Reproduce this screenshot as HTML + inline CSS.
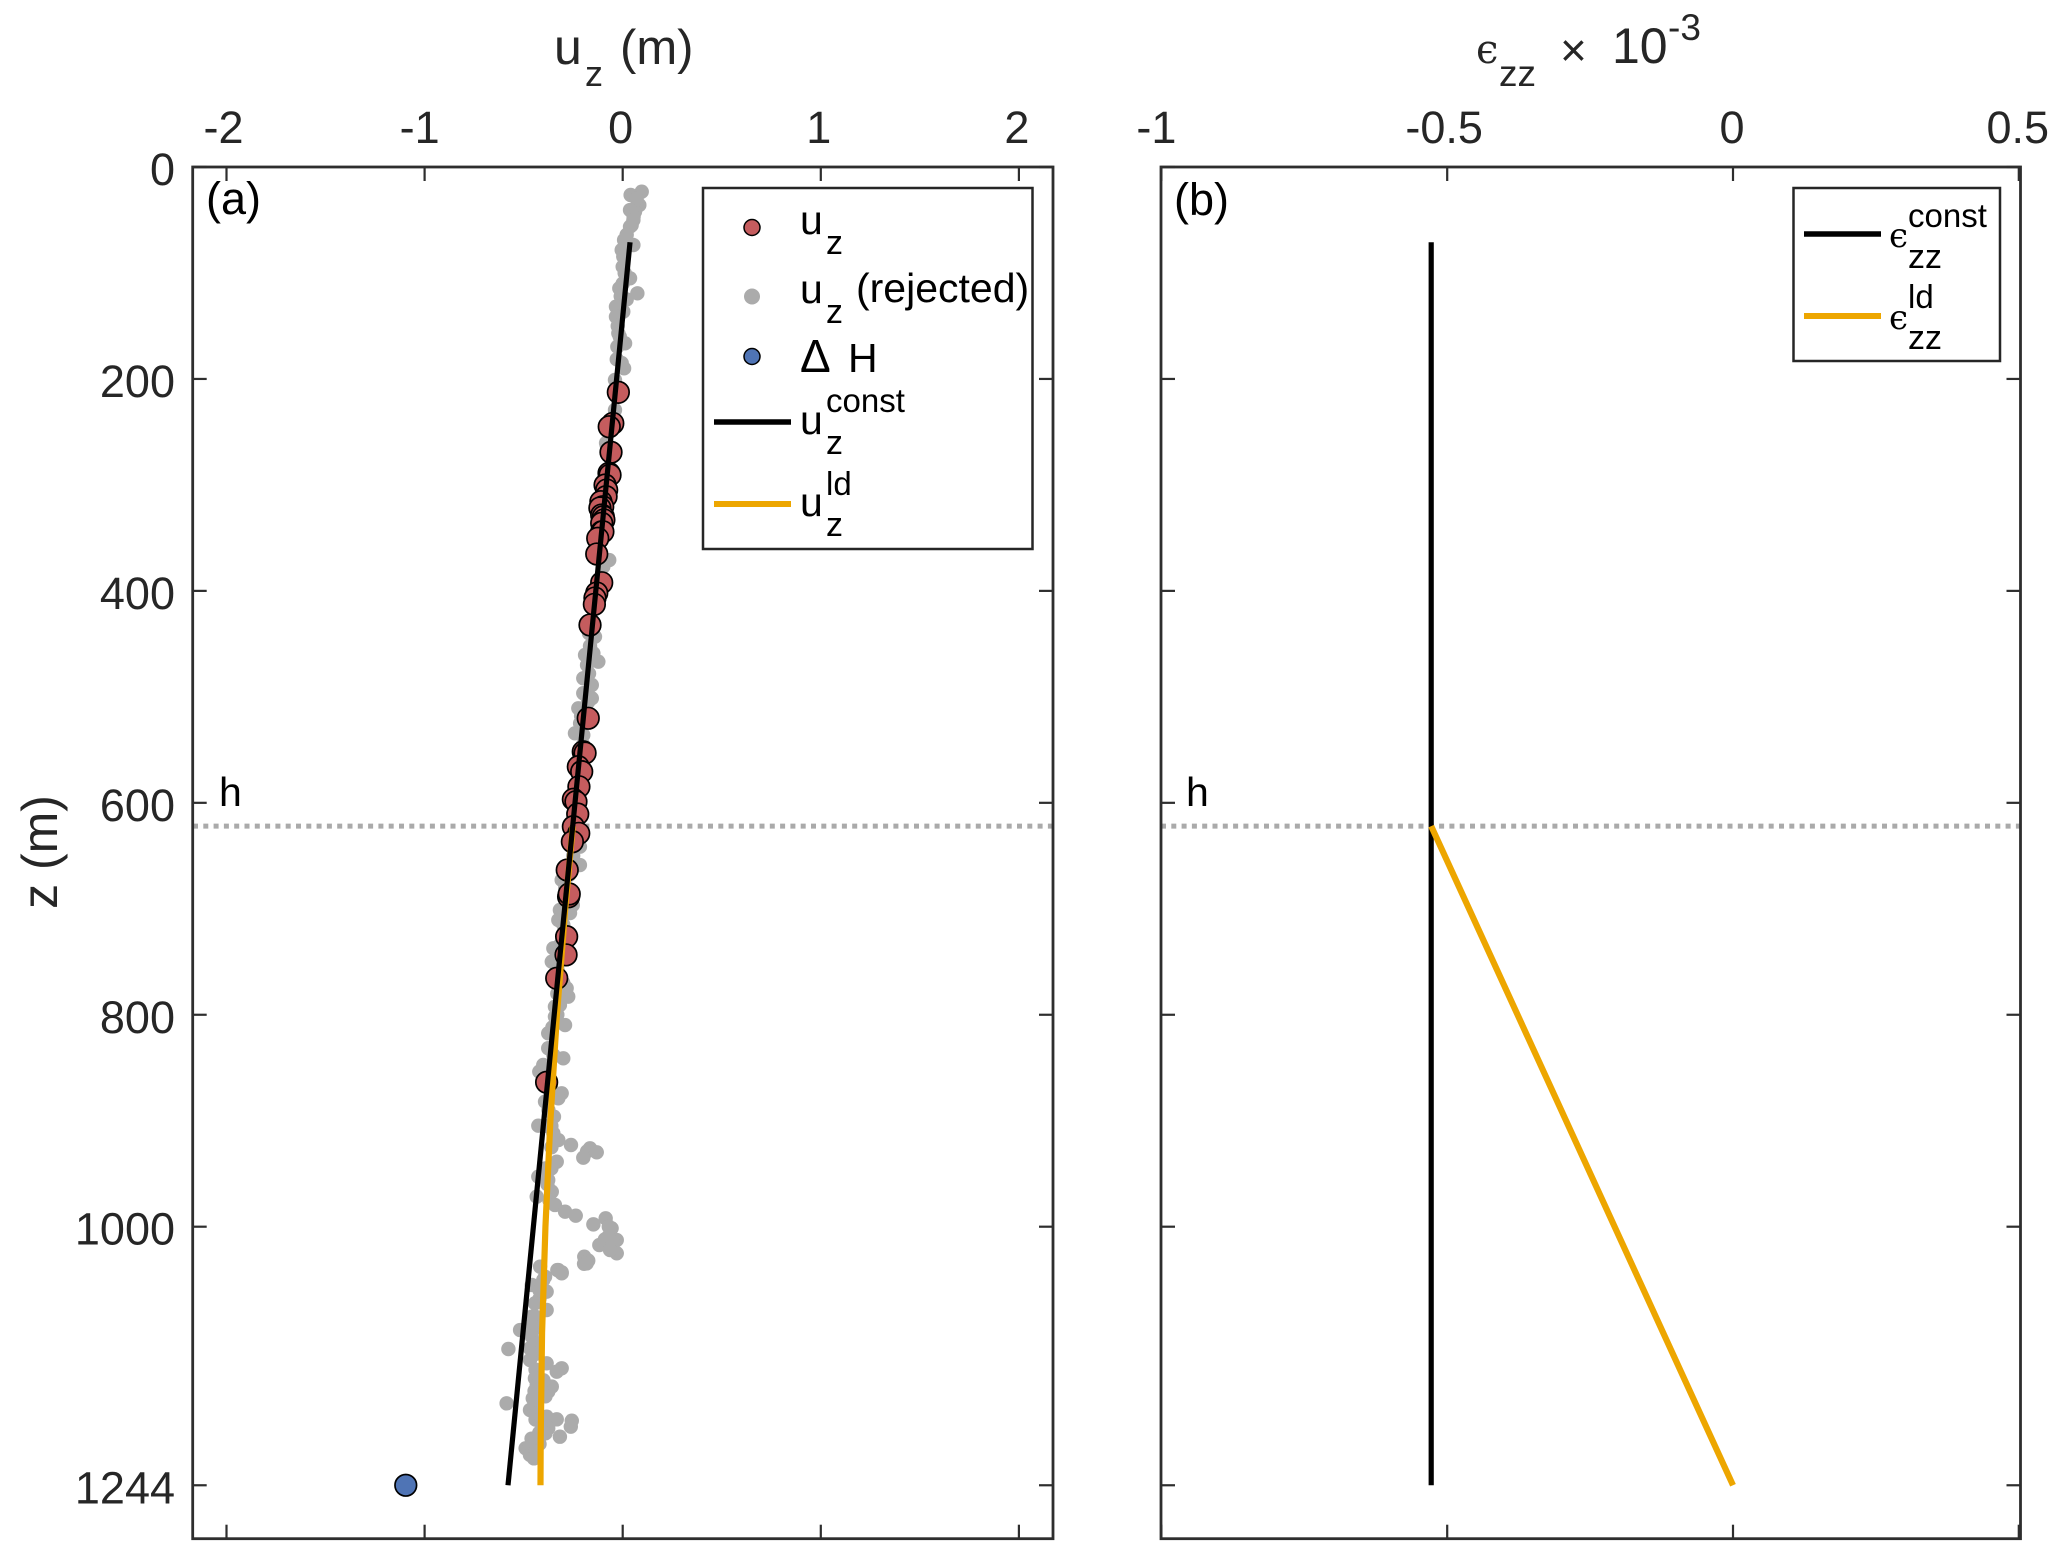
<!DOCTYPE html>
<html lang="en">
<head>
<meta charset="utf-8">
<title>Displacement and strain profiles</title>
<style>
html,body{margin:0;padding:0;background:#fff;}
svg{display:block;font-family:"Liberation Sans",sans-serif;}
.tk{font-size:45px;fill:#262626;}
.ti{font-size:50px;fill:#262626;}
.lg{font-size:41px;fill:#000;}
.sb{font-size:34px;fill:#000;}
.ss{font-size:33px;fill:#000;}
.ep{font-family:"DejaVu Serif","Liberation Serif",serif;font-size:34px;fill:#000;}
</style>
</head>
<body>
<svg id="fig" xmlns="http://www.w3.org/2000/svg" width="2067" height="1552" viewBox="0 0 2067 1552">
  <rect x="0" y="0" width="2067" height="1552" fill="#fff"/>
  <g id="panelA"></g>
  <g id="panelB"></g>

  <text class="ti"><tspan x="554" y="64">u</tspan><tspan x="585" y="86" font-size="36">z</tspan><tspan x="620" y="64" font-size="49">(m)</tspan></text>
  <text class="ti"><tspan x="1476" y="63" class="ep" style="font-size:40px;fill:#262626">ϵ</tspan><tspan x="1499" y="86" font-size="37">zz</tspan><tspan x="1560" y="66" font-size="46">×</tspan><tspan x="1612" y="63">10</tspan><tspan x="1668" y="40" font-size="37">-3</tspan></text>
  <text class="ti" transform="translate(57,852) rotate(-90)" text-anchor="middle">z (m)</text>
  <text x="206" y="214" font-size="45" fill="#000">(a)</text>
  <text x="1174" y="215" font-size="45" fill="#000">(b)</text>
  <text x="219" y="806" font-size="41" fill="#000">h</text>
  <text x="1186" y="806" font-size="41" fill="#000">h</text>

  <g>
    <rect x="703" y="188" width="329.5" height="361" fill="#fff" stroke="#262626" stroke-width="2.5"/>
    <g>
      <circle cx="752" cy="227.5" r="8" fill="#c55c5e" stroke="#000" stroke-width="1.5"/>
      <text class="lg" x="800" y="234">u</text><text class="sb" x="826" y="254">z</text>
    </g>
    <g>
      <circle cx="752" cy="296.5" r="8" fill="#ababab"/>
      <text class="lg" x="800" y="303">u</text><text class="sb" x="826" y="323">z</text>
      <text class="lg" x="856" y="302">(rejected)</text>
    </g>
    <g>
      <circle cx="752" cy="356.5" r="8" fill="#4f74b5" stroke="#000" stroke-width="1.5"/>
      <text class="lg" x="800" y="372" style="font-size:46px">Δ</text><text class="lg" x="848" y="372">H</text>
    </g>
    <g>
      <line x1="714" y1="422" x2="791" y2="422" stroke="#000" stroke-width="5.5"/>
      <text class="lg" x="800" y="434">u</text><text class="sb" x="826" y="454">z</text>
      <text class="ss" x="826" y="412">const</text>
    </g>
    <g>
      <line x1="714" y1="504" x2="791" y2="504" stroke="#eda600" stroke-width="6"/>
      <text class="lg" x="800" y="516">u</text><text class="sb" x="826" y="536">z</text>
      <text class="ss" x="826" y="495">ld</text>
    </g>
  </g>

  <g>
    <rect x="1793.5" y="188" width="206.5" height="173" fill="#fff" stroke="#262626" stroke-width="2.5"/>
    <g>
      <line x1="1804" y1="234" x2="1881" y2="234" stroke="#000" stroke-width="5.5"/>
      <text class="ep" x="1889" y="247">ϵ</text><text class="sb" x="1908" y="268">zz</text>
      <text class="ss" x="1908" y="227">const</text>
    </g>
    <g>
      <line x1="1804" y1="316" x2="1881" y2="316" stroke="#eda600" stroke-width="6"/>
      <text class="ep" x="1889" y="329">ϵ</text><text class="sb" x="1908" y="349">zz</text>
      <text class="ss" x="1908" y="308">ld</text>
    </g>
  </g>
</svg>

<script>
// ---- data ----
const yTicks = [0, 200, 400, 600, 800, 1000, 1244];
const xTicksA = [-2, -1, 0, 1, 2];
const xTicksB = [-1, -0.5, 0, 0.5];
const xTickLabelsB = ['-1', '-0.5', '0', '0.5'];
const hDepth = 622;

const acceptedU = [-0.022,-0.050,-0.068,-0.059,-0.069,-0.064,-0.089,-0.081,-0.084,-0.110,-0.101,-0.115,-0.106,-0.098,-0.095,-0.106,-0.106,-0.100,-0.126,-0.131,-0.106,-0.131,-0.140,-0.143,-0.165,-0.174,-0.199,-0.190,-0.224,-0.207,-0.221,-0.249,-0.236,-0.227,-0.249,-0.222,-0.254,-0.280,-0.273,-0.270,-0.283,-0.286,-0.333,-0.384];
const acceptedZ = [212.6,241.9,245.1,269.2,289.0,290.6,300.1,304.8,311.1,315.8,320.6,321.8,328.4,330,333,336.2,344.2,344.2,350.4,365.2,392.3,402,406.7,412.7,432.2,520.2,551.8,553,565.9,570.6,584.8,596.7,598.9,610.6,622.5,628.8,636.7,663.4,688.6,686,726.3,743.5,765.6,863.7];

const rejectedU = [0.096,0.040,0.084,0.070,0.062,0.037,0.055,0.054,0.045,0.037,0.020,0.007,0.054,-0.005,0.003,0,0.010,0.037,0.000,-0.017,-0.010,0.020,0.074,-0.034,0.003,-0.034,-0.025,-0.022,-0.015,0.012,-0.027,-0.030,-0.005,0.007,-0.039,-0.020,-0.039,-0.081,-0.084,-0.068,-0.098,-0.140,-0.170,-0.165,-0.190,-0.123,-0.148,-0.180,-0.170,-0.199,-0.156,-0.199,-0.175,-0.156,-0.224,-0.210,-0.215,-0.241,-0.199,-0.200,-0.216,-0.250,-0.216,-0.270,-0.308,-0.290,-0.252,-0.275,-0.317,-0.325,-0.266,-0.300,-0.290,-0.300,-0.320,-0.350,-0.330,-0.358,-0.330,-0.300,-0.275,-0.283,-0.330,-0.342,-0.330,-0.291,-0.355,-0.376,-0.342,-0.317,-0.350,-0.376,-0.300,-0.401,-0.421,-0.380,-0.360,-0.308,-0.392,-0.325,-0.375,-0.347,-0.380,-0.360,-0.426,-0.325,-0.350,-0.360,-0.261,-0.165,-0.180,-0.131,-0.199,-0.333,-0.390,-0.360,-0.426,-0.376,-0.380,-0.358,-0.370,-0.434,-0.342,-0.291,-0.237,-0.148,-0.086,-0.070,-0.056,-0.030,-0.118,-0.073,-0.090,-0.050,-0.030,-0.064,-0.194,-0.174,-0.195,-0.417,-0.330,-0.308,-0.392,-0.182,-0.325,-0.308,-0.401,-0.459,-0.384,-0.420,-0.420,-0.443,-0.384,-0.459,-0.440,-0.430,-0.460,-0.518,-0.459,-0.440,-0.577,-0.468,-0.440,-0.468,-0.440,-0.384,-0.308,-0.333,-0.443,-0.434,-0.358,-0.376,-0.445,-0.400,-0.390,-0.454,-0.586,-0.468,-0.450,-0.434,-0.440,-0.410,-0.384,-0.333,-0.257,-0.262,-0.376,-0.421,-0.390,-0.317,-0.443,-0.420,-0.460,-0.490,-0.470,-0.468,-0.440,-0.448];
const rejectedZ = [23.3,26.4,35.9,30,42.2,40.6,47,50,55,56.3,64,68.9,73.6,78.3,84.6,94.1,100,105,110,114.5,122,125,119.2,131.8,136.5,141.3,150,156.9,160,166.4,169.6,181.5,185,190,201,215,229.3,262.3,260.4,370.9,377.2,443.2,440,452,460.5,466.8,458.9,470,478,482.5,488.8,496.6,505,501.4,510.8,518,525,534.4,536,545,641.4,650,658.7,668,672.8,680,696.4,690,701.1,710.6,704,715,725,730,735,737.3,745,749.9,757,770,782.9,775,780,792.4,800,809.7,812,817.5,801.8,790.8,838,831.6,841.1,847.4,853.7,860,870,874.1,882,878.8,890,896.2,905,905,904.7,918.2,911.9,925,922.9,926,929,929.8,934.9,938.7,945,945,952.8,955.9,960,967,975,971.7,979.5,985.8,989.6,997.8,992.1,1000,1001.5,1012.6,1017.3,1009.4,1012,1015,1025.1,1022,1028.3,1032,1035,1037.7,1040.9,1043,1047.2,1034.6,1040.9,1044,1050.3,1055,1061.3,1060,1068,1072.3,1078.6,1084.9,1085,1095,1095,1097.5,1103.8,1110,1115.4,1114.8,1120,1125.8,1135,1128.9,1133.6,1136.8,1143.1,1149.4,1150.9,1155.7,1155,1145,1160,1162,1166.7,1173,1170,1176.2,1182,1180,1179.3,1181.8,1183.1,1188.7,1190.3,1194.4,1195,1198.2,1204.4,1205,1200,1209.1,1208,1215.4,1212,1218.6];

const deltaHU = [-1.095];
const deltaHZ = [1244];

const uConstZ = [71, 1244];
const uConstU = [0.037, -0.579];
const uLdZ = [622, 700, 800, 900, 1000, 1100, 1200, 1244];
const uLdU = [-0.252, -0.290, -0.332, -0.365, -0.390, -0.407, -0.414, -0.415];

const epsConstZ = [71, 1244];
const epsConstV = [-0.528, -0.528];
const epsLdZ = [622, 1244];
const epsLdV = [-0.528, 0];

// ---- axis functions ----
const yOf = z => 167 + 1.0597 * z;
const xA = u => 622.7 + 198.1 * u;
const xB = v => 1733 + 571.6 * v;

const NS = 'http://www.w3.org/2000/svg';
function mk(tag, parent, attrs) {
  const el = document.createElementNS(NS, tag);
  for (const k in attrs) el.setAttribute(k, attrs[k]);
  parent.appendChild(el);
  return el;
}
function pointsOf(xs, zs, xf) {
  return xs.map((v, i) => xf(v).toFixed(2) + ',' + yOf(zs[i]).toFixed(2)).join(' ');
}

function drawFrame(g, left, right, top, bottom, xf, xTicks, xLabels, labelDx, showYLabels, suffix) {
  const axisColor = '#2e2e2e';
  const box = mk('rect', g, {x: left, y: top, width: right - left, height: bottom - top, fill: 'none', stroke: axisColor, 'stroke-width': 2.8});
  
  

  xTicks.forEach((t, i) => {
    const x = xf(t);
    const topTick = mk('line', g, {x1: x, x2: x, y1: top, y2: top + 14, stroke: axisColor, 'stroke-width': 2.2});
    
    
    const botTick = mk('line', g, {x1: x, x2: x, y1: bottom, y2: bottom - 14, stroke: axisColor, 'stroke-width': 2.2});
    
    
    const lab = mk('text', g, {x: x + labelDx[i], y: 143, 'text-anchor': 'middle', class: 'tk'});
    
    
    lab.textContent = xLabels[i];
  });

  yTicks.forEach(t => {
    const y = yOf(t);
    const lt = mk('line', g, {x1: left, x2: left + 14, y1: y, y2: y, stroke: axisColor, 'stroke-width': 2.2});
    
    
    const rt = mk('line', g, {x1: right, x2: right - 14, y1: y, y2: y, stroke: axisColor, 'stroke-width': 2.2});
    
    
    if (showYLabels) {
      const lab = mk('text', g, {x: 175, y: y + 18, 'text-anchor': 'end', class: 'tk'});
      
      
      lab.textContent = String(t);
    }
  });
}

function drawH(g, left, right, suffix) {
  const y = yOf(hDepth);
  const l = mk('line', g, {x1: left, x2: right, y1: y, y2: y, stroke: '#aaaaaa', 'stroke-width': 5, 'stroke-dasharray': '5 5.3'});
  
  
}

// ---- panel a ----
const gA = document.getElementById('panelA');
drawH(gA, 193, 1053, 'a');

rejectedU.forEach((u, i) => {
  const c = mk('circle', gA, {cx: xA(u), cy: yOf(rejectedZ[i]), r: 7.2, fill: '#ababab'});
  
  
});
acceptedU.forEach((u, i) => {
  const c = mk('circle', gA, {cx: xA(u), cy: yOf(acceptedZ[i]), r: 10.8, fill: '#c55c5e', stroke: '#000', 'stroke-width': 1.7});
  
  
});
deltaHU.forEach((u, i) => {
  const c = mk('circle', gA, {cx: xA(u), cy: yOf(deltaHZ[i]), r: 10.8, fill: '#4f74b5', stroke: '#000', 'stroke-width': 1.7});
  
  
});
const ldA = mk('polyline', gA, {points: pointsOf(uLdU, uLdZ, xA), fill: 'none', stroke: '#eda600', 'stroke-width': 6.2});


const constA = mk('polyline', gA, {points: pointsOf(uConstU, uConstZ, xA), fill: 'none', stroke: '#000', 'stroke-width': 5.2});



drawFrame(gA, 192.7, 1053, 167, 1538.7, xA, xTicksA, xTicksA.map(String), [-3, -5, -2, -2, -2], true, 'a');

// ---- panel b ----
const gB = document.getElementById('panelB');
drawH(gB, 1161, 2020, 'b');
const constB = mk('polyline', gB, {points: pointsOf(epsConstV, epsConstZ, xB), fill: 'none', stroke: '#000', 'stroke-width': 5.2});


const ldB = mk('polyline', gB, {points: pointsOf(epsLdV, epsLdZ, xB), fill: 'none', stroke: '#eda600', 'stroke-width': 6.2});



drawFrame(gB, 1161, 2020.5, 167, 1538.7, xB, xTicksB, xTickLabelsB, [-5, -3, -1, -1], false, 'b');
</script>
</body>
</html>
